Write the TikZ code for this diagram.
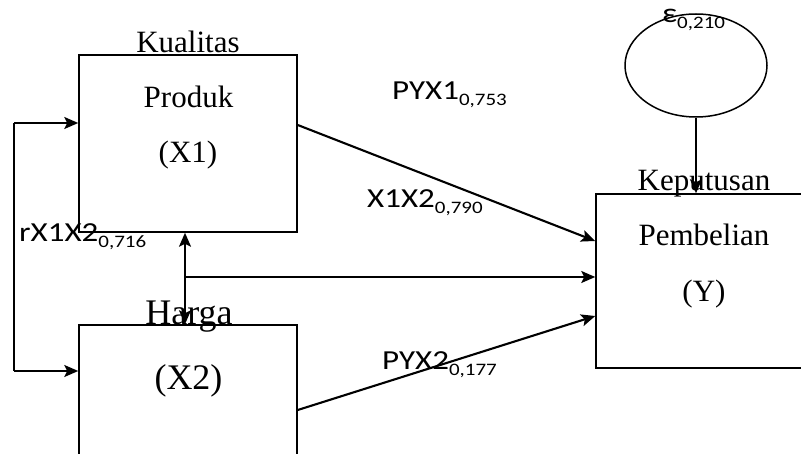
\documentclass[tikz,border=0pt]{standalone}
\usepackage{fontspec}
\setmainfont{Liberation Serif}
\newfontfamily\fontkoef[FakeStretch=1.2]{Carlito}
\usetikzlibrary{shapes.geometric,arrows.meta}
\newcommand{\koefteks}[2]{{\fontkoef\fontsize{27.5}{30}\selectfont #1\raisebox{-6pt}{\fontsize{17.5}{18}\selectfont #2}}}

\begin{document}
\begin{tikzpicture}[x=1pt,y=-1pt,
	kotak/.style={draw,line width=1.5pt,rectangle,inner sep=0pt},
	teks/.style={anchor=base,inner sep=0pt,font=\fontsize{31}{34}\selectfont},
	teksbesar/.style={anchor=base,inner sep=0pt,font=\fontsize{36}{40}\selectfont},
	koef/.style={anchor=base west,inner sep=0pt},
	panah/.style={line width=2.1pt,-{Stealth[length=14pt,width=12pt,inset=3pt]}},
	panahdua/.style={line width=2.1pt,{Stealth[length=14pt,width=12pt,inset=3pt]}-{Stealth[length=14pt,width=12pt,inset=3pt]}}]
	\clip (0,0) rectangle (801,454);
	
	\node[kotak,minimum width=218pt,minimum height=177pt] (x1) at (188,143.5) {};
	\node[kotak,minimum width=218pt,minimum height=155pt] (x2) at (188,402.5) {};
	\node[kotak,minimum width=224pt,minimum height=174pt] (y) at (708,281) {};
	\node[draw,ellipse,line width=1.5pt,inner sep=0pt,minimum width=142pt,minimum height=103pt] (ell) at (696,65.5) {};
	
	\node[teks] (kual) at (188,53) {Kualitas};
	\node[teks] (prod) at (188.5,108) {Produk};
	\node[teks] (x1t) at (188,163) {(X1)};
	\node[teksbesar] (harga) at (189,325) {Harga};
	\node[teksbesar] (x2t) at (188.5,390) {(X2)};
	\node[teks] (kep) at (704,191) {Keputusan};
	\node[teks] (pemb) at (704,246) {Pembelian};
	\node[teks] (yt) at (704,302) {(Y)};
	
	\node[koef] (pyx1) at (392,100) {\koefteks{PYX1}{0,753}};
	\node[koef] (x1x2) at (367,208) {\koefteks{X1X2}{0,790}};
	\node[koef] (rx1x2) at (19,242) {\koefteks{rX1X2}{0,716}};
	\node[koef] (pyx2) at (382,370) {\koefteks{PYX2}{0,177}};
	\node[koef] (eps) at (662,23) {\koefteks{ε}{0,210}};
	
	\coordinate (ka) at (14,123);
	\coordinate (kb) at (14,371);
	\coordinate (j) at (185,277);
	\draw[line width=1.5pt] (ka) -- (kb);
	\draw[panah] (ka) -- (ka -| x1.west);
	\draw[panah] (kb) -- (kb -| x2.west);
	\draw[panahdua] (x2.north -| j) -- (x1.south -| j);
	\draw[panah] (j) -- (j -| y.west);
	\draw[panah] ([yshift=18.5pt]x1.east) -- ([yshift=40pt]y.west);
	\draw[panah] ([yshift=-7.5pt]x2.east) -- ([yshift=-35pt]y.west);
	\draw[panah] (ell.south) -- (ell.south |- y.north);
\end{tikzpicture}
\end{document}
